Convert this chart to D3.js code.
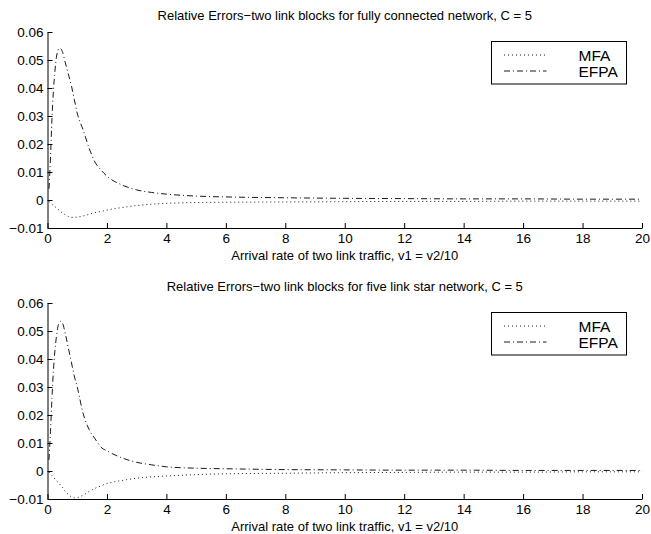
<!DOCTYPE html>
<html>
<head>
<meta charset="utf-8">
<script src="https://cdn.jsdelivr.net/npm/d3@7"></script>
<style>
  body { margin: 0; background: #fff; }
  svg text { font-family: "Liberation Sans", Arial, Helvetica, sans-serif; fill: #000; }
</style>
</head>
<body>
<svg id="chart" width="651" height="534"></svg>
<script>
// valeurs
const xTicks = [0, 2, 4, 6, 8, 10, 12, 14, 16, 18, 20];
const yTicks = [-0.01, 0, 0.01, 0.02, 0.03, 0.04, 0.05, 0.06];
const seriesNames = ["MFA", "EFPA"];

const arrivalRate = [0.05, 0.1, 0.15, 0.2, 0.25, 0.3, 0.35, 0.4, 0.45, 0.5, 0.6, 0.7, 0.8, 0.9, 1.0,
  1.2, 1.4, 1.6, 1.8, 2.0, 2.5, 3, 3.5, 4, 5, 6, 8, 10, 12, 14, 16, 18, 20];

// graphe 1 : reseau totalement connecte
const fullMFA = [-0.0005, -0.001, -0.0015, -0.002, -0.0024, -0.0028, -0.0033, -0.0037, -0.0042, -0.0046,
  -0.0053, -0.0059, -0.0062, -0.0062, -0.0061, -0.0057, -0.0051, -0.0045, -0.0041, -0.0036,
  -0.0027, -0.002, -0.0015, -0.0012, -0.0009, -0.0008, -0.0007, -0.0006, -0.0005, -0.0005,
  -0.0004, -0.0004, -0.0004];
const fullEFPA = [0.004, 0.015, 0.029, 0.039, 0.046, 0.051, 0.0535, 0.0542, 0.054, 0.053,
  0.049, 0.045, 0.041, 0.036, 0.031, 0.025, 0.0185, 0.0135, 0.0107, 0.0085,
  0.0054, 0.0036, 0.0027, 0.0021, 0.0014, 0.0011, 0.0008, 0.0006, 0.0005, 0.0004,
  0.0004, 0.0003, 0.0003];

// graphe 2 : reseau en etoile a cinq liens
const starMFA = [-0.0004, -0.001, -0.0016, -0.0022, -0.0029, -0.0035, -0.004, -0.0046, -0.0052, -0.0058,
  -0.0073, -0.0084, -0.0092, -0.0096, -0.0095, -0.0086, -0.0073, -0.0062, -0.0053, -0.0045,
  -0.0034, -0.0026, -0.0021, -0.0018, -0.0013, -0.001, -0.0008, -0.0006, -0.0005, -0.0004,
  -0.0004, -0.0003, -0.0003];
const starEFPA = [0.004, 0.014, 0.026, 0.036, 0.043, 0.048, 0.0515, 0.053, 0.0535, 0.053,
  0.049, 0.044, 0.039, 0.034, 0.030, 0.0205, 0.0148, 0.0115, 0.0085, 0.0072,
  0.0047, 0.0031, 0.0022, 0.0015, 0.001, 0.0008, 0.0005, 0.0004, 0.0003, 0.0003,
  0.0002, 0.0002, 0.0002];

const titles = [
  "Relative Errors\u2212two link blocks for fully connected network, C = 5",
  "Relative Errors\u2212two link blocks for five link star network, C = 5"
];
const xLabel = "Arrival rate of two link traffic, v1 = v2/10";

const svg = d3.select("#chart");
const left = 47.5, right = 642, plotH = 196;
const dashes = { MFA: "1,3", EFPA: "6,3,1,3" };

const x = d3.scaleLinear().domain([0, 20]).range([left, right]);

function drawPanel(top, title, mfa, efpa) {
  const y = d3.scaleLinear().domain([-0.01, 0.06]).range([top + plotH, top]);
  const g = svg.append("g");

  // axes
  g.append("g")
    .attr("transform", `translate(0,${top + plotH})`)
    .call(d3.axisBottom(x).tickValues(xTicks).tickSizeInner(-5).tickSizeOuter(0).tickPadding(5).tickFormat(d3.format("d")))
    .call(a => a.selectAll("text").attr("font-size", 13.5))
    .call(a => a.select(".domain").attr("stroke-width", 1));
  g.append("g")
    .attr("transform", `translate(${left},0)`)
    .call(d3.axisLeft(y).tickValues(yTicks).tickSizeInner(-5).tickSizeOuter(0).tickPadding(4)
      .tickFormat(d => d === 0 ? "0" : d3.format(".2f")(d)))
    .call(a => a.selectAll("text").attr("font-size", 13.5))
    .call(a => a.select(".domain").attr("stroke-width", 1));
  g.selectAll(".tick text").attr("font-family", "Liberation Sans, Arial, sans-serif");

  // titre et label
  g.append("text").attr("x", (left + right) / 2).attr("y", top - 12)
    .attr("text-anchor", "middle").attr("font-size", 13).text(title);
  g.append("text").attr("x", (left + right) / 2).attr("y", top + plotH + 32)
    .attr("text-anchor", "middle").attr("font-size", 13).text(xLabel);

  // courbes
  const line = d3.line()
    .x((d, i) => x(arrivalRate[i]))
    .y(d => y(d))
    .curve(d3.curveMonotoneX);
  [mfa, efpa].forEach((vals, k) => {
    g.append("path").datum(vals)
      .attr("d", line)
      .attr("fill", "none")
      .attr("stroke", "#000")
      .attr("stroke-width", 0.9)
      .attr("stroke-dasharray", dashes[seriesNames[k]]);
  });

  // legende
  const lx = 491.5, ly = top + 9.5;
  const leg = g.append("g");
  leg.append("rect").attr("x", lx).attr("y", ly).attr("width", 135).attr("height", 42.5)
    .attr("fill", "#fff").attr("stroke", "#000").attr("stroke-width", 1);
  seriesNames.forEach((name, k) => {
    const yy = ly + 13.5 + k * 16;
    leg.append("line").attr("x1", lx + 12.5).attr("x2", lx + 55).attr("y1", yy).attr("y2", yy)
      .attr("stroke", "#000").attr("stroke-width", 0.9).attr("stroke-dasharray", dashes[name]);
    leg.append("text").attr("x", lx + 87).attr("y", yy + 5.5)
      .attr("font-size", 15.5).text(name);
  });
}

drawPanel(32, titles[0], fullMFA, fullEFPA);
drawPanel(303, titles[1], starMFA, starEFPA);
</script>
</body>
</html>
